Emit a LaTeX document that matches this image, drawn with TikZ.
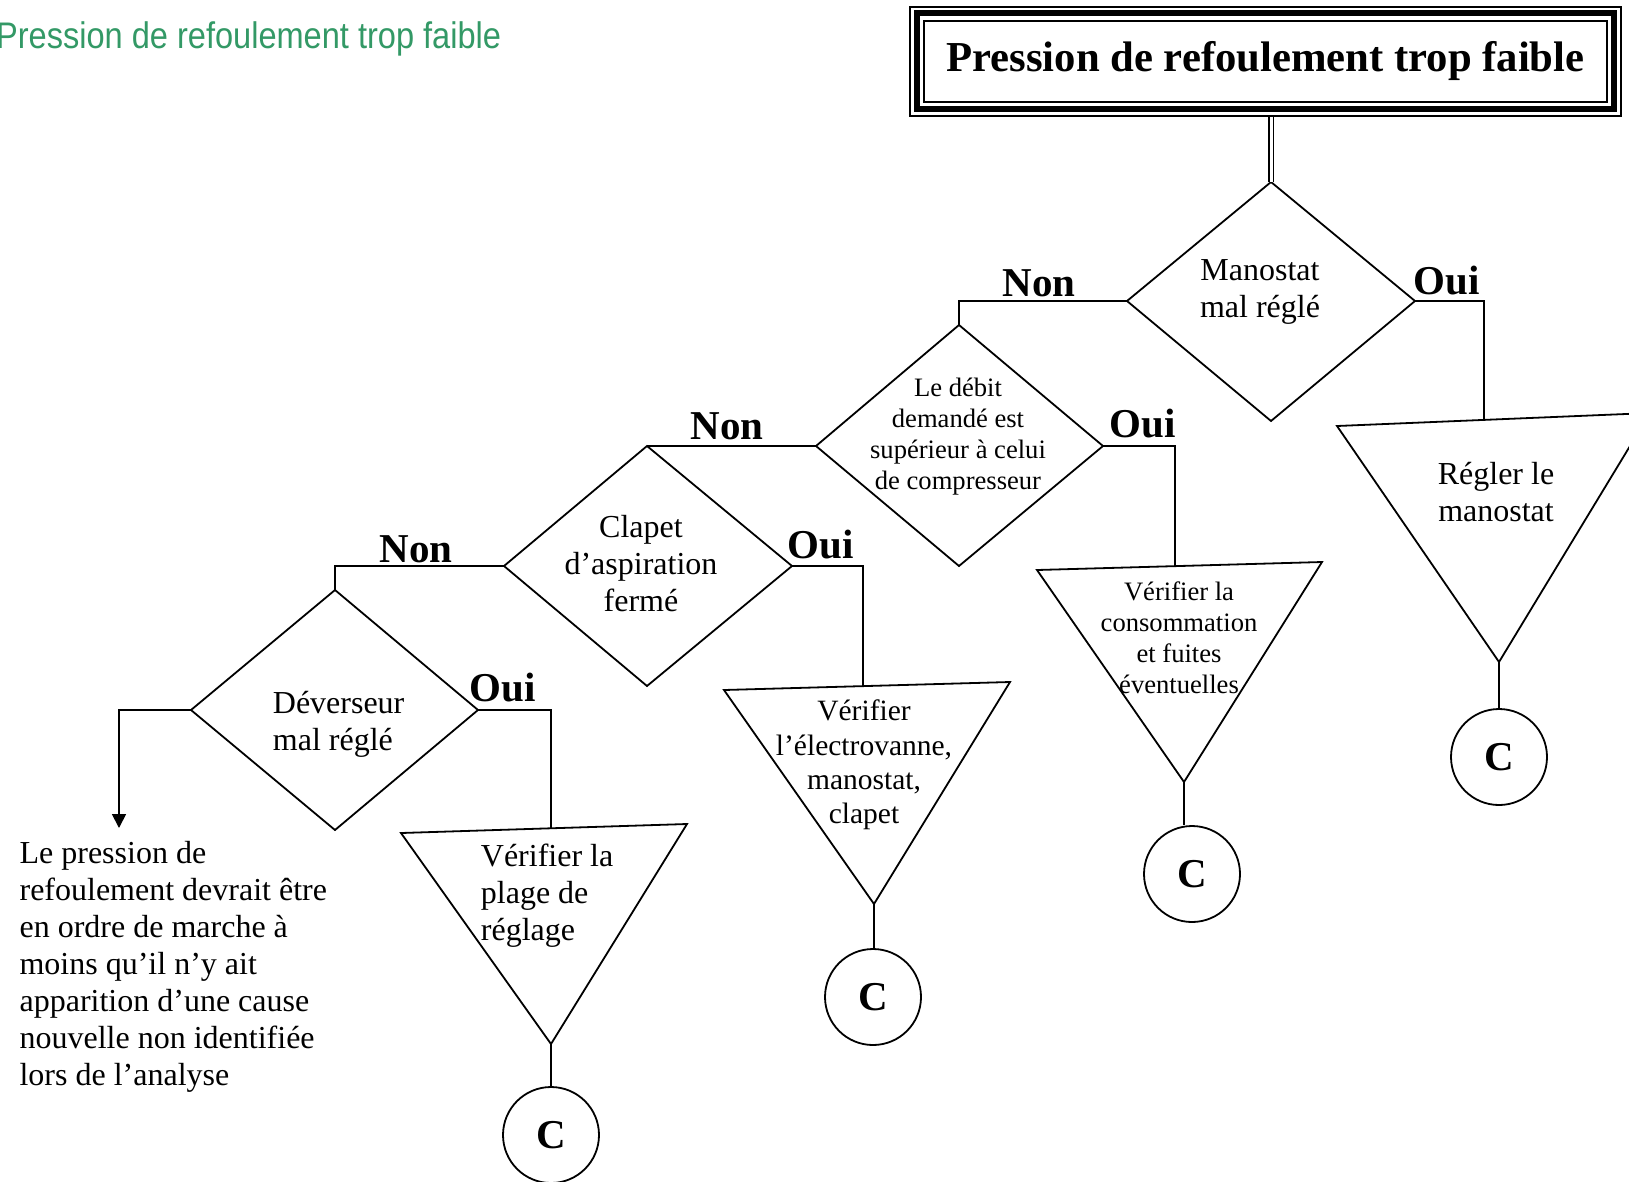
\documentclass[tikz,border=0pt]{standalone}
\usepackage{fontspec}
\setmainfont{Liberation Serif}
\newfontfamily\greensans[FakeStretch=0.88]{Liberation Sans}
\usetikzlibrary{arrows.meta}
\definecolor{seagreen}{RGB}{51,153,102}
\begin{document}
\begin{tikzpicture}[x=1pt,y=-1pt,line width=1.8pt,
  lab/.style={font=\fontsize{41}{46}\selectfont\bfseries,inner sep=0pt},
  txt/.style={font=\fontsize{32}{37}\selectfont,align=center,inner sep=0pt},
  txts/.style={font=\fontsize{26.6}{31}\selectfont,align=center,inner sep=0pt},
  conn/.style={circle,draw,minimum size=96pt,inner sep=0pt,font=\fontsize{41}{46}\selectfont\bfseries},
  link/.style={draw,line join=miter}]
\useasboundingbox (0,0) rectangle (1629,1181);
\fill[white] (0,0) rectangle (1629,1181);

% green heading
\node[anchor=east,inner sep=0pt,text=seagreen,font=\greensans\fontsize{37}{42}\selectfont] (head) at (502,39) {Pression de refoulement trop faible};

% title box
\node[minimum width=711pt,minimum height=109pt,inner sep=0pt,font=\fontsize{42.7}{48}\selectfont\bfseries] (title) at (1265.5,61.5) {Pression de refoulement trop faible};
\draw[line width=1.5pt] (910,7) rectangle (1621,116);
\draw[line width=6pt] (917,13) rectangle (1614,109);
\draw[line width=1.5pt] (924,21) rectangle (1607,102);

% diamonds
\coordinate (D1n) at (1271,182); \coordinate (D1w) at (1127,301); \coordinate (D1e) at (1415,301); \coordinate (D1s) at (1271,421);
\coordinate (D2n) at (959,325); \coordinate (D2w) at (816,446); \coordinate (D2e) at (1103,446); \coordinate (D2s) at (959,566);
\coordinate (D3n) at (647,446); \coordinate (D3w) at (504,566); \coordinate (D3e) at (792,566); \coordinate (D3s) at (647,686);
\coordinate (D4n) at (335,590); \coordinate (D4w) at (191,710); \coordinate (D4e) at (478,710); \coordinate (D4s) at (335,830);
\foreach \d in {D1,D2,D3,D4} \draw[line join=miter] (\d n) -- (\d e) -- (\d s) -- (\d w) -- cycle;

\node[txt] (t1) at (1260,292) {Manostat\\mal réglé};
\node[txts] (t2) at (958,437) {Le débit\\demandé est\\supérieur à celui\\de compresseur};
\node[txt] (t3) at (641,564) {Clapet\\d’aspiration\\fermé};
\node[txt,align=left,anchor=west] (t4) at (272,724) {Déverseur\\mal réglé};

% triangles
\coordinate (T1l) at (1337,426); \coordinate (T1r) at (1650,413); \coordinate (T1a) at (1499,662);
\coordinate (T2l) at (1037,570); \coordinate (T2r) at (1322,562); \coordinate (T2a) at (1184,782);
\coordinate (T3l) at (724,690); \coordinate (T3r) at (1010,682); \coordinate (T3a) at (874,904);
\coordinate (T4l) at (401,833); \coordinate (T4r) at (687,824); \coordinate (T4a) at (551,1044);
\foreach \t in {T1,T2,T3,T4} \draw[line join=miter] (\t l) -- (\t r) -- (\t a) -- cycle;

\node[txt] (r1) at (1496,492) {Régler le\\manostat};
\node[txts] (r2) at (1179,638) {Vérifier la\\consommation\\et fuites\\éventuelles};
\node[txt,font=\fontsize{29.5}{34.3}\selectfont] (r3) at (864,765) {Vérifier\\l’électrovanne,\\manostat,\\clapet};
\node[txt,align=left,anchor=west] (r4) at (480,896) {Vérifier la\\plage de\\réglage};

% connector circles
\node[conn] (C1) at (1499,757) {C};
\node[conn] (C2) at (1192,874) {C};
\node[conn] (C3) at (873,997) {C};
\node[conn] (C4) at (551,1135) {C};
\draw (T1a) -- (T1a |- C1.north);
\draw (T2a) -- (T2a |- C2.north);
\draw (T3a) -- (T3a |- C3.north);
\draw (T4a) -- (T4a |- C4.north);

% title to first diamond
\draw[double,double distance=3pt,line width=1.3pt] (D1n |- title.south) -- (D1n);

% Non branches
\draw[link] (D1w) -- (D2n |- D1w) -- (D2n);
\draw[link] (D2w) -- (D3n);
\draw[link] (D3w) -- (D4n |- D3w) -- (D4n);
\coordinate (endtxt) at (119,828);
\draw[link,-{Triangle[width=14pt,length=14pt]}] (D4w) -- (endtxt |- D4w) -- (endtxt);

% Oui branches
\coordinate (k1) at (1484,301);
\coordinate (k2) at (1175,446);
\coordinate (k3) at (863,566);
\coordinate (k4) at (551,710);
\draw[link] (D1e) -- (k1) -- (intersection of k1--{1484,700} and T1l--T1r);
\draw[link] (D2e) -- (k2) -- (intersection of k2--{1175,800} and T2l--T2r);
\draw[link] (D3e) -- (k3) -- (intersection of k3--{863,900} and T3l--T3r);
\draw[link] (D4e) -- (k4) -- (intersection of k4--{551,1000} and T4l--T4r);

% labels
\node[lab] (n1) at (1039,283) {Non};
\node[lab] (o1) at (1447,281) {Oui};
\node[lab] (n2) at (727,426) {Non};
\node[lab] (o2) at (1143,424) {Oui};
\node[lab] (n3) at (416,549) {Non};
\node[lab] (o3) at (821,545) {Oui};
\node[lab] (o4) at (503,688) {Oui};

% final text
\node[txt,align=left,anchor=west] (fin) at (18.7,967) {Le pression de\\refoulement devrait être\\en ordre de marche à\\moins qu’il n’y ait\\apparition d’une cause\\nouvelle non identifiée\\lors de l’analyse};
\end{tikzpicture}
\end{document}
